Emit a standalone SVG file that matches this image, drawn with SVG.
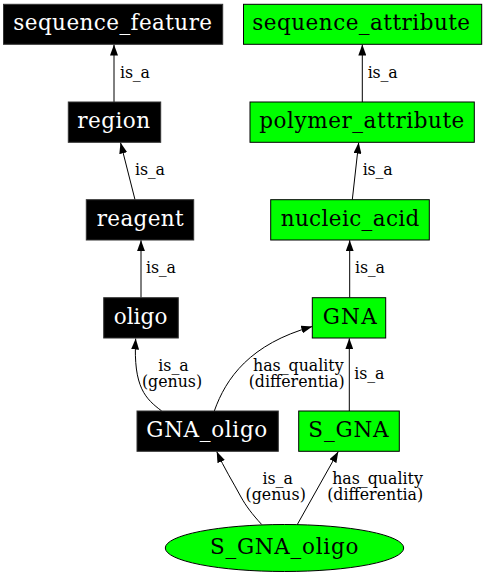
<svg xmlns="http://www.w3.org/2000/svg" width="486" height="576" viewBox="0 0 486 576">
<style>
.blk rect{fill:#000;stroke:#333;stroke-width:1}
.grn rect,.grn ellipse{fill:#00ff00;stroke:#000;stroke-width:1}
.nt{font-family:"DejaVu Serif",serif;font-size:21.5px;text-anchor:middle}
.blk text{fill:#fff}
.grn text{fill:#000}
.e path{fill:none;stroke:#000;stroke-width:1;marker-end:url(#arr)}
.lb{font-family:"DejaVu Serif",serif;font-size:15.8px;fill:#000}
.m{text-anchor:middle}
</style>
<defs>
<marker id="arr" markerWidth="11" markerHeight="8" refX="11" refY="4" orient="auto" markerUnits="userSpaceOnUse">
<path d="M0,0 L11,4 L0,8 z" fill="#000"/>
</marker>
</defs>
<rect width="486" height="576" fill="#fff"/>
<g id="edges" class="e">
<path d="M114,102 L114,44.5"/>
<path d="M362.3,102 L362.3,44.5"/>
<path d="M135,199.7 L120.5,142.5"/>
<path d="M352.3,199.7 L358.7,142.5"/>
<path d="M141,297.7 L141,240.2"/>
<path d="M349.7,297.7 L349.7,240.2"/>
<path d="M161.7,411 C146,399 133,388 135.7,338.5"/>
<path d="M214.3,411 C226,378 250,344 312.3,326.5"/>
<path d="M349.3,411 L349.3,338.3"/>
<path d="M261.7,524.5 C252,514 246,506 241,497 C233,482 224,468 216.7,451.5"/>
<path d="M297.3,524.5 L338.3,451.5"/>
<text class="lb" x="120" y="77.5" textLength="30">is_a</text>
<text class="lb" x="367.7" y="77.5" textLength="30">is_a</text>
<text class="lb" x="135" y="174.5" textLength="30">is_a</text>
<text class="lb" x="362.7" y="174.5" textLength="30">is_a</text>
<text class="lb" x="146" y="272.7" textLength="30">is_a</text>
<text class="lb" x="355" y="272.7" textLength="30">is_a</text>
<text class="lb m" x="173.5" y="370.7">is_a</text>
<text class="lb m" x="172" y="386.7">(genus)</text>
<text class="lb m" x="298.3" y="370.7">has_quality</text>
<text class="lb m" x="296.7" y="386.7">(differentia)</text>
<text class="lb" x="354.3" y="378.7" textLength="30">is_a</text>
<text class="lb m" x="277.7" y="484">is_a</text>
<text class="lb m" x="275.7" y="500">(genus)</text>
<text class="lb m" x="377.5" y="484">has_quality</text>
<text class="lb m" x="375.2" y="500">(differentia)</text>
</g>
<g id="sequence_feature" class="blk"><rect x="3.5" y="4.3" width="219.2" height="40"/><text class="nt" x="112.7" y="30" textLength="198.7">sequence_feature</text></g>
<g id="sequence_attribute" class="grn"><rect x="243.5" y="4.3" width="238.2" height="40"/><text class="nt" x="361.2" y="30" textLength="217.7">sequence_attribute</text></g>
<g id="region" class="blk"><rect x="68.3" y="102" width="92.4" height="40.3"/><text class="nt" x="113.7" y="128" textLength="72.7">region</text></g>
<g id="polymer_attribute" class="grn"><rect x="250" y="102" width="224.3" height="40.3"/><text class="nt" x="361.8" y="128" textLength="205">polymer_attribute</text></g>
<g id="reagent" class="blk"><rect x="86.3" y="199.7" width="107.4" height="40.3"/><text class="nt" x="140.2" y="225.7" textLength="87">reagent</text></g>
<g id="nucleic_acid" class="grn"><rect x="270.7" y="199.7" width="158.6" height="40.3"/><text class="nt" x="350" y="225.7" textLength="138.7">nucleic_acid</text></g>
<g id="oligo" class="blk"><rect x="103.7" y="297.7" width="74.6" height="40.3"/><text class="nt" x="140.5" y="323.5" textLength="53.7">oligo</text></g>
<g id="GNA" class="grn"><rect x="312.3" y="297.7" width="73.4" height="40.3"/><text class="nt" x="349.7" y="323.5" textLength="54">GNA</text></g>
<g id="GNA_oligo" class="blk"><rect x="137" y="411" width="141.3" height="40.3"/><text class="nt" x="206.8" y="436.8" textLength="121">GNA_oligo</text></g>
<g id="S_GNA" class="grn"><rect x="298.7" y="411" width="100.6" height="40.3"/><text class="nt" x="348.5" y="436.8" textLength="80.3">S_GNA</text></g>
<g id="S_GNA_oligo" class="grn"><ellipse cx="284.5" cy="548" rx="119.2" ry="23.5"/><text class="nt" x="284.2" y="553.8" textLength="148.3">S_GNA_oligo</text></g>
</svg>
